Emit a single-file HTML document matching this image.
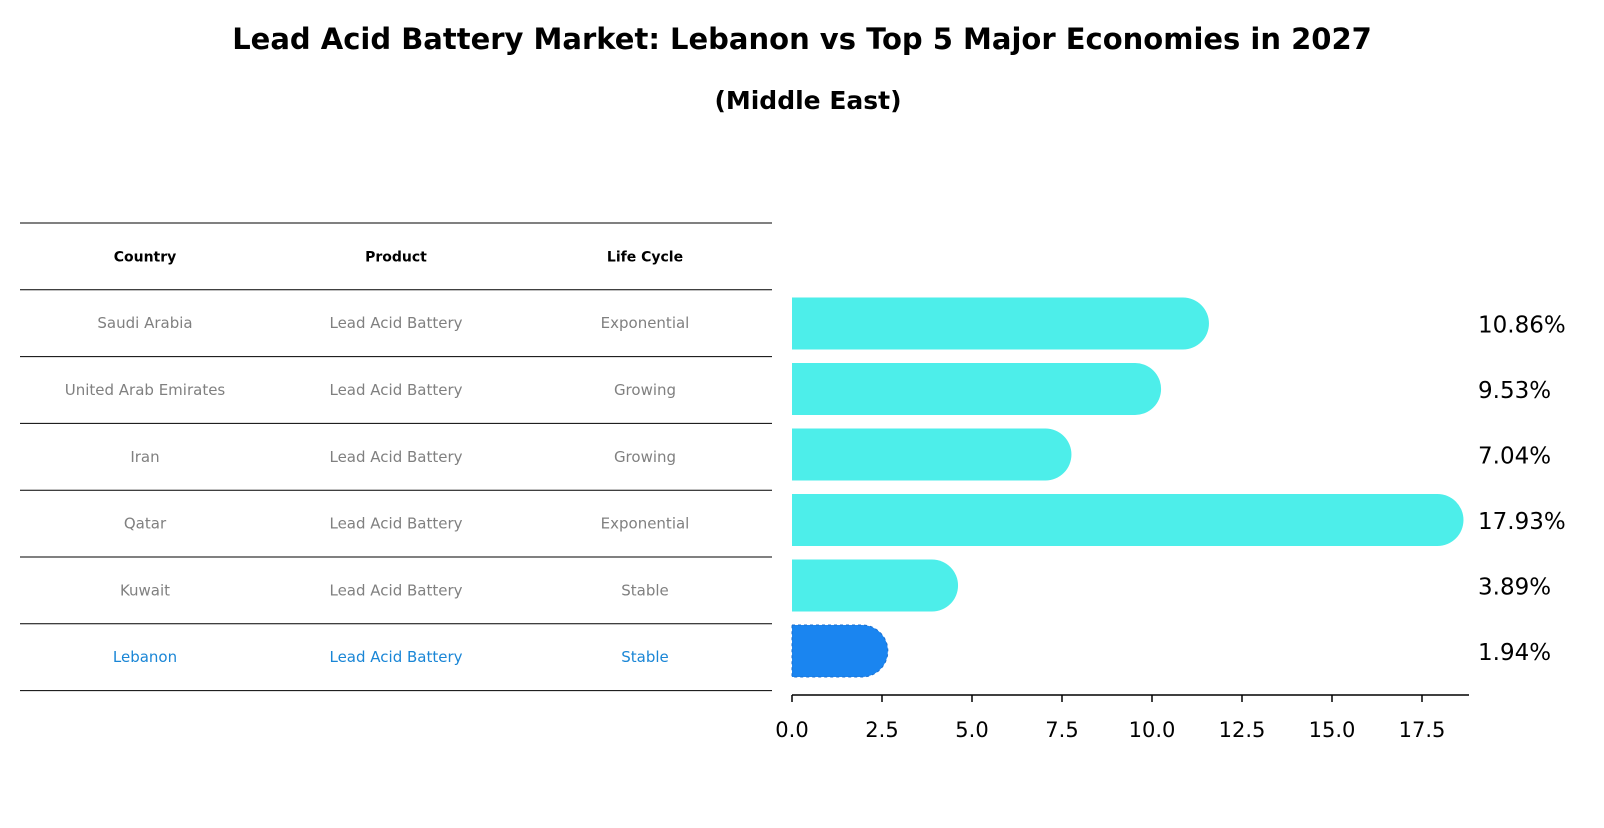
<!DOCTYPE html>
<html><head><meta charset="utf-8"><style>
body{margin:0;background:#fff;font-family:"Liberation Sans","DejaVu Sans",sans-serif}
svg text{font-family:"DejaVu Sans","Liberation Sans",sans-serif}
</style></head><body>
<svg id="c" width="1604" height="823" xmlns="http://www.w3.org/2000/svg">
<text x="802" y="49" text-anchor="middle" font-size="29" font-weight="bold">Lead Acid Battery Market: Lebanon vs Top 5 Major Economies in 2027</text>
<text x="808" y="109" text-anchor="middle" font-size="25" font-weight="bold">(Middle East)</text>
<g id="tbl"></g>
<g id="bars"></g>
</svg>
<script>
const countries=["Saudi Arabia","United Arab Emirates","Iran","Qatar","Kuwait","Lebanon"];
const products=["Lead Acid Battery","Lead Acid Battery","Lead Acid Battery","Lead Acid Battery","Lead Acid Battery","Lead Acid Battery"];
const cycles=["Exponential","Growing","Growing","Exponential","Stable","Stable"];
const values=[10.86,9.53,7.04,17.93,3.89,1.94];
const ticks=[0,2.5,5,7.5,10,12.5,15,17.5];
const NS="http://www.w3.org/2000/svg";
function mk(t,a,p){const e=document.createElementNS(NS,t);for(const k in a)e.setAttribute(k,a[k]);p.appendChild(e);return e;}
const tbl=document.getElementById('tbl'),bars=document.getElementById('bars');
const rowTop=223,rowH=66.8,colX=[145,396,645];
const xs=v=>792+v*36;
const yc=i=>651-65.5*(countries.length-1-i);
for(let i=0;i<=countries.length+1;i++){
 const l=mk('line',{x1:20,x2:772,y1:rowTop+i*rowH,y2:rowTop+i*rowH,stroke:'#000','stroke-width':1},tbl);
 
 
}
["Country","Product","Life Cycle"].forEach((h,j)=>{
 const t=mk('text',{x:colX[j],y:rowTop+rowH/2+5,'text-anchor':'middle','font-size':14,'font-weight':'bold'},tbl);
 t.textContent=h;
 
 
});
countries.forEach((c,i)=>{
 const col=c==="Lebanon"?'#1a86d6':'#808080';
 [c,products[i],cycles[i]].forEach((s,j)=>{
  const t=mk('text',{x:colX[j],y:rowTop+rowH*(i+1)+rowH/2+5,'text-anchor':'middle','font-size':15,fill:col},tbl);
  t.textContent=s;
  
  
 });
 const y=yc(i),h=52,r=26,x0=xs(0),x1=xs(values[i]);
 const fill=c==="Lebanon"?'#1a85f0':'#4deeea';
 const p=mk('path',{d:`M${x0},${y-h/2}H${x1}A${r},${r} 0 0 1 ${x1},${y+h/2}H${x0}Z`,fill:fill},bars);
 if(c==="Lebanon"){p.setAttribute('stroke','#1a6fd0');p.setAttribute('stroke-dasharray','3,3');}
 
 
 const t=mk('text',{x:1478,y:y+9,'font-size':23},bars);
 t.textContent=values[i].toFixed(2)+'%';
 
 
});
const ax=mk('line',{x1:792,x2:1469,y1:695,y2:695,stroke:'#000','stroke-width':1.5},bars);


ticks.forEach(v=>{
 const tk=mk('line',{x1:xs(v),x2:xs(v),y1:695,y2:702,stroke:'#000','stroke-width':1.5},bars);
 
 
 const t=mk('text',{x:xs(v),y:737,'text-anchor':'middle','font-size':21},bars);
 t.textContent=v.toFixed(1);
 
 
});
</script>
</body></html>
